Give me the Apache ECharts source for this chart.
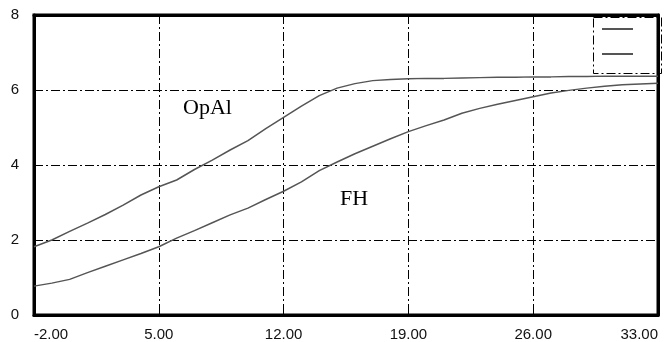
<!DOCTYPE html>
<html>
<head>
<meta charset="utf-8">
<script src="https://cdn.jsdelivr.net/npm/echarts@6/dist/echarts.min.js"></script>
<style>
  html, body { margin: 0; padding: 0; background: #fff; }
  #main { width: 665px; height: 342px; }
</style>
</head>
<body>
<div id="main"></div>
<script>
// x positions (shared by both curves)
const xs = [-2, -1, 0, 1, 2, 3, 4, 5, 6, 7, 8, 9, 10, 11, 12, 13, 14, 15, 16, 17, 18,
  19, 20, 21, 22, 23, 24, 25, 26, 27, 28, 29, 30, 31, 32, 33];
const opal = [1.82, 2.0, 2.23, 2.45, 2.68, 2.93, 3.2, 3.42, 3.6, 3.88, 4.13, 4.4, 4.65, 4.97,
  5.27, 5.57, 5.85, 6.05, 6.17, 6.25, 6.28, 6.3, 6.31, 6.31, 6.32, 6.33, 6.34, 6.34, 6.35,
  6.35, 6.36, 6.36, 6.37, 6.37, 6.37, 6.37];
const fh = [0.77, 0.85, 0.95, 1.13, 1.3, 1.47, 1.64, 1.82, 2.05, 2.25, 2.46, 2.67, 2.85, 3.08,
  3.3, 3.55, 3.85, 4.08, 4.3, 4.5, 4.7, 4.89, 5.05, 5.2, 5.38, 5.51, 5.62, 5.72, 5.82,
  5.92, 5.99, 6.05, 6.1, 6.14, 6.16, 6.18];
const xMin = -2; // axis starts here; ticks every 7

var myChart = echarts.init(document.getElementById('main'));

// shift x so the axis min is 0 (ticks count from min)
const toPairs = ys => xs.map((x, i) => [x - xMin, ys[i]]);
const dashDot = [9, 3, 2, 3];
const frame = { show: true, onZero: false, lineStyle: { color: '#000', width: 3 } };
const labelFont = 'Liberation Sans, Arial, sans-serif';

var option = {
  animation: false,
  backgroundColor: '#fff',
  grid: {
    left: 34, right: 7, top: 15, bottom: 27,
    show: true, borderColor: '#000', borderWidth: 3, backgroundColor: 'transparent'
  },
  legend: {
    orient: 'vertical',
    left: 597, top: 23,
    icon: 'rect',
    itemWidth: 31, itemHeight: 2, itemGap: 23,
    selectedMode: false,
    formatter: () => '',
    textStyle: { fontSize: 2, lineHeight: 2 },
    data: ['OpAl', 'FH']
  },
  xAxis: [
    {
      type: 'value',
      min: 0, max: 35, interval: 7,
      axisLine: frame,
      axisTick: { show: true, inside: true, length: 5, lineStyle: { color: '#000', width: 1 } },
      axisLabel: {
        margin: 12,
        fontFamily: labelFont,
        fontSize: 15, color: '#111',
        alignMinLabel: 'left', alignMaxLabel: 'right',
        formatter: v => (v + xMin).toFixed(2)
      },
      splitLine: { show: true, lineStyle: { color: '#000', width: 1, type: dashDot } }
    },
    {
      type: 'value', position: 'top',
      min: 0, max: 35, interval: 7,
      axisLine: frame,
      axisTick: { show: false }, axisLabel: { show: false }, splitLine: { show: false }
    }
  ],
  yAxis: [
    {
      type: 'value',
      min: 0, max: 8, interval: 2,
      axisLine: frame,
      axisTick: { show: false },
      axisLabel: {
        margin: 15,
        fontFamily: labelFont,
        fontSize: 15, color: '#111'
      },
      splitLine: { show: true, lineStyle: { color: '#000', width: 1, type: dashDot } }
    },
    {
      type: 'value', position: 'right',
      min: 0, max: 8, interval: 2,
      axisLine: frame,
      axisTick: { show: false }, axisLabel: { show: false }, splitLine: { show: false }
    }
  ],
  graphic: [
    {
      type: 'rect', left: 591, top: 15, z: 10,
      shape: { width: 68, height: 56 },
      style: { fill: 'none', stroke: '#000', lineWidth: 1, lineDash: dashDot }
    },
    {
      type: 'text', left: 183, top: 97, z: 10,
      style: { text: 'OpAl', font: '22px "Liberation Serif"', fill: '#000' }
    },
    {
      type: 'text', left: 340, top: 188, z: 10,
      style: { text: 'FH', font: '22px "Liberation Serif"', fill: '#000' }
    }
  ],
  series: [
    {
      name: 'OpAl', type: 'line', data: toPairs(opal),
      showSymbol: false, color: '#555',
      lineStyle: { width: 1.5, color: '#555' }
    },
    {
      name: 'FH', type: 'line', data: toPairs(fh),
      showSymbol: false, color: '#555',
      lineStyle: { width: 1.5, color: '#555' }
    }
  ]
};

option && myChart.setOption(option);
</script>
</body>
</html>
